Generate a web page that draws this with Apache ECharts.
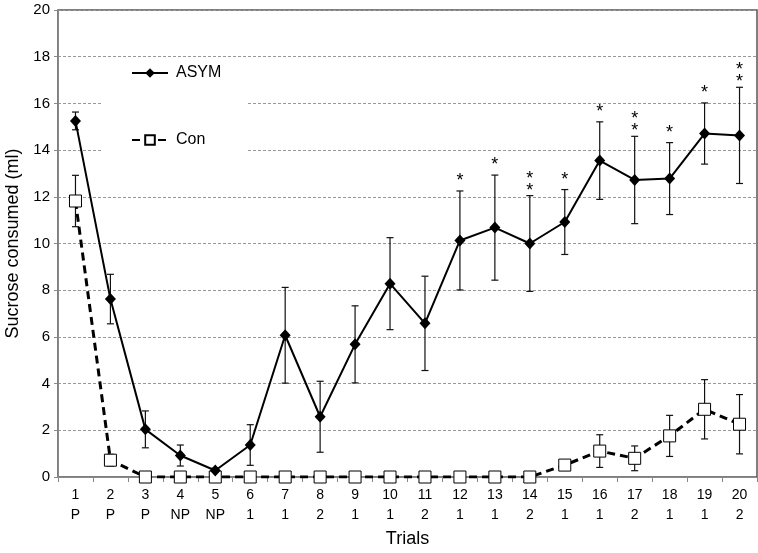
<!DOCTYPE html>
<html>
<head>
<meta charset="utf-8">
<script src="https://cdn.jsdelivr.net/npm/echarts@6/dist/echarts.min.js"></script>
<style>html,body{margin:0;padding:0;background:#fff}#c{width:758px;height:553px}</style>
</head>
<body>
<div id="c"></div>
<script>
const categories = ['1','2','3','4','5','6','7','8','9','10','11','12','13','14','15','16','17','18','19','20'];
const conditions = ['P','P','P','NP','NP','1','1','2','1','1','2','1','1','2','1','1','2','1','1','2'];
const asymMean = [15.25,7.62,2.04,0.92,0.28,1.37,6.07,2.58,5.68,8.28,6.58,10.13,10.68,10.0,10.92,13.55,12.72,12.78,14.71,14.63];
const asymSem  = [0.38,1.06,0.79,0.45,0.1,0.87,2.05,1.52,1.65,1.97,2.02,2.12,2.25,2.05,1.39,1.66,1.87,1.54,1.31,2.06];
const conMean  = [11.82,0.72,0,0,0,0,0,0,0,0,0,0,0,0,0.51,1.11,0.8,1.76,2.9,2.26];
const conSem   = [1.1,0.25,0,0,0,0,0,0,0,0,0,0,0,0,0.1,0.7,0.53,0.88,1.27,1.27];
const sigStars = [0,0,0,0,0,0,0,0,0,0,0,1,1,2,1,1,2,1,1,2];
const yTicks = {min:0, max:20, interval:2};

const FONT = '"Liberation Sans", Arial, sans-serif';

function errData(mean, sem){
  return mean.map((m,i)=>[i, m - sem[i], m + sem[i], sem[i]]);
}
function errRender(params, api){
  if (api.value(3) <= 0) return null;
  const x = api.value(0);
  const lo = api.coord([x, Math.max(0, api.value(1))]);
  const hi = api.coord([x, api.value(2)]);
  const w = 3.5;
  const st = {stroke:'#111', lineWidth:1.2};
  return {type:'group', children:[
    {type:'line', shape:{x1:lo[0], y1:lo[1], x2:hi[0], y2:hi[1]}, style:st},
    {type:'line', shape:{x1:hi[0]-w, y1:hi[1], x2:hi[0]+w, y2:hi[1]}, style:st},
    {type:'line', shape:{x1:lo[0]-w, y1:lo[1], x2:lo[0]+w, y2:lo[1]}, style:st}
  ]};
}
const starData = sigStars.map((n,i)=>[i, asymMean[i] + asymSem[i], n]);
function starRender(params, api){
  const n = api.value(2);
  if (!n) return null;
  const p = api.coord([api.value(0), api.value(1)]);
  const kids = [];
  const first = n === 1 ? 14 : 9;
  for (let k=0;k<n;k++){
    const cy = p[1] - first - k*12;
    kids.push({type:'text', style:{text:'*', x:p[0], y:cy + 4, align:'center', verticalAlign:'middle',
      font:'18px ' + FONT, fill:'#000'}});
  }
  return {type:'group', children:kids};
}

const chart = echarts.init(document.getElementById('c'), null, {renderer:'canvas'});
chart.setOption({
  animation:false,
  backgroundColor:'#fff',
  grid:{left:58, right:1, top:10, bottom:76, outerBoundsMode:'none', containLabel:false,
    show:true, borderColor:'#555', borderWidth:1.5, backgroundColor:'transparent'},
  legend:{
    orient:'vertical', left:103, top:57,
    padding:[8,25,4,28], itemGap:51, itemWidth:36, itemHeight:12,
    backgroundColor:'#fff',
    textStyle:{fontFamily:FONT, fontSize:16, color:'#000', padding:[0,0,0,3]},
    data:['ASYM','Con']
  },
  xAxis:{
    type:'category', data:categories,
    name:'Trials', nameLocation:'middle', nameGap:53,
    nameTextStyle:{fontFamily:FONT, fontSize:18, color:'#000'},
    axisLine:{lineStyle:{color:'#888', width:1}},
    axisTick:{show:true, length:5, lineStyle:{color:'#888'}},
    axisLabel:{interval:0, margin:8, fontFamily:FONT, fontSize:14, color:'#000', lineHeight:20,
      formatter:(v,i)=> v + '\n' + conditions[i]}
  },
  yAxis:{
    type:'value', min:yTicks.min, max:yTicks.max, interval:yTicks.interval,
    name:'Sucrose consumed (ml)', nameLocation:'middle', nameGap:34, nameRotate:90,
    nameTextStyle:{fontFamily:FONT, fontSize:18, color:'#000'},
    axisLine:{show:true, lineStyle:{color:'#888', width:1}},
    axisTick:{show:true, length:4, lineStyle:{color:'#888'}},
    axisLabel:{margin:8, fontFamily:FONT, fontSize:15, color:'#000'},
    splitLine:{show:true, lineStyle:{color:'#999', type:[3,2], width:1}}
  },
  series:[
    {type:'custom', name:'asymErr', renderItem:errRender, data:errData(asymMean, asymSem), z:1, silent:true},
    {type:'custom', name:'conErr', renderItem:errRender, data:errData(conMean, conSem), z:1, silent:true},
    {type:'line', name:'ASYM', data:asymMean, z:3,
      symbol:'diamond', symbolSize:[11,12], showAllSymbol:true,
      itemStyle:{color:'#000'}, lineStyle:{color:'#000', width:2}},
    {type:'line', name:'Con', data:conMean, z:2,
      symbol:'rect', symbolSize:12, showAllSymbol:true,
      itemStyle:{color:'#fff', borderColor:'#000', borderWidth:1},
      lineStyle:{color:'#000', width:3, type:[8,5]}},
    {type:'custom', name:'sig', renderItem:starRender, data:starData, z:4, silent:true}
  ]
});
</script>
</body>
</html>
